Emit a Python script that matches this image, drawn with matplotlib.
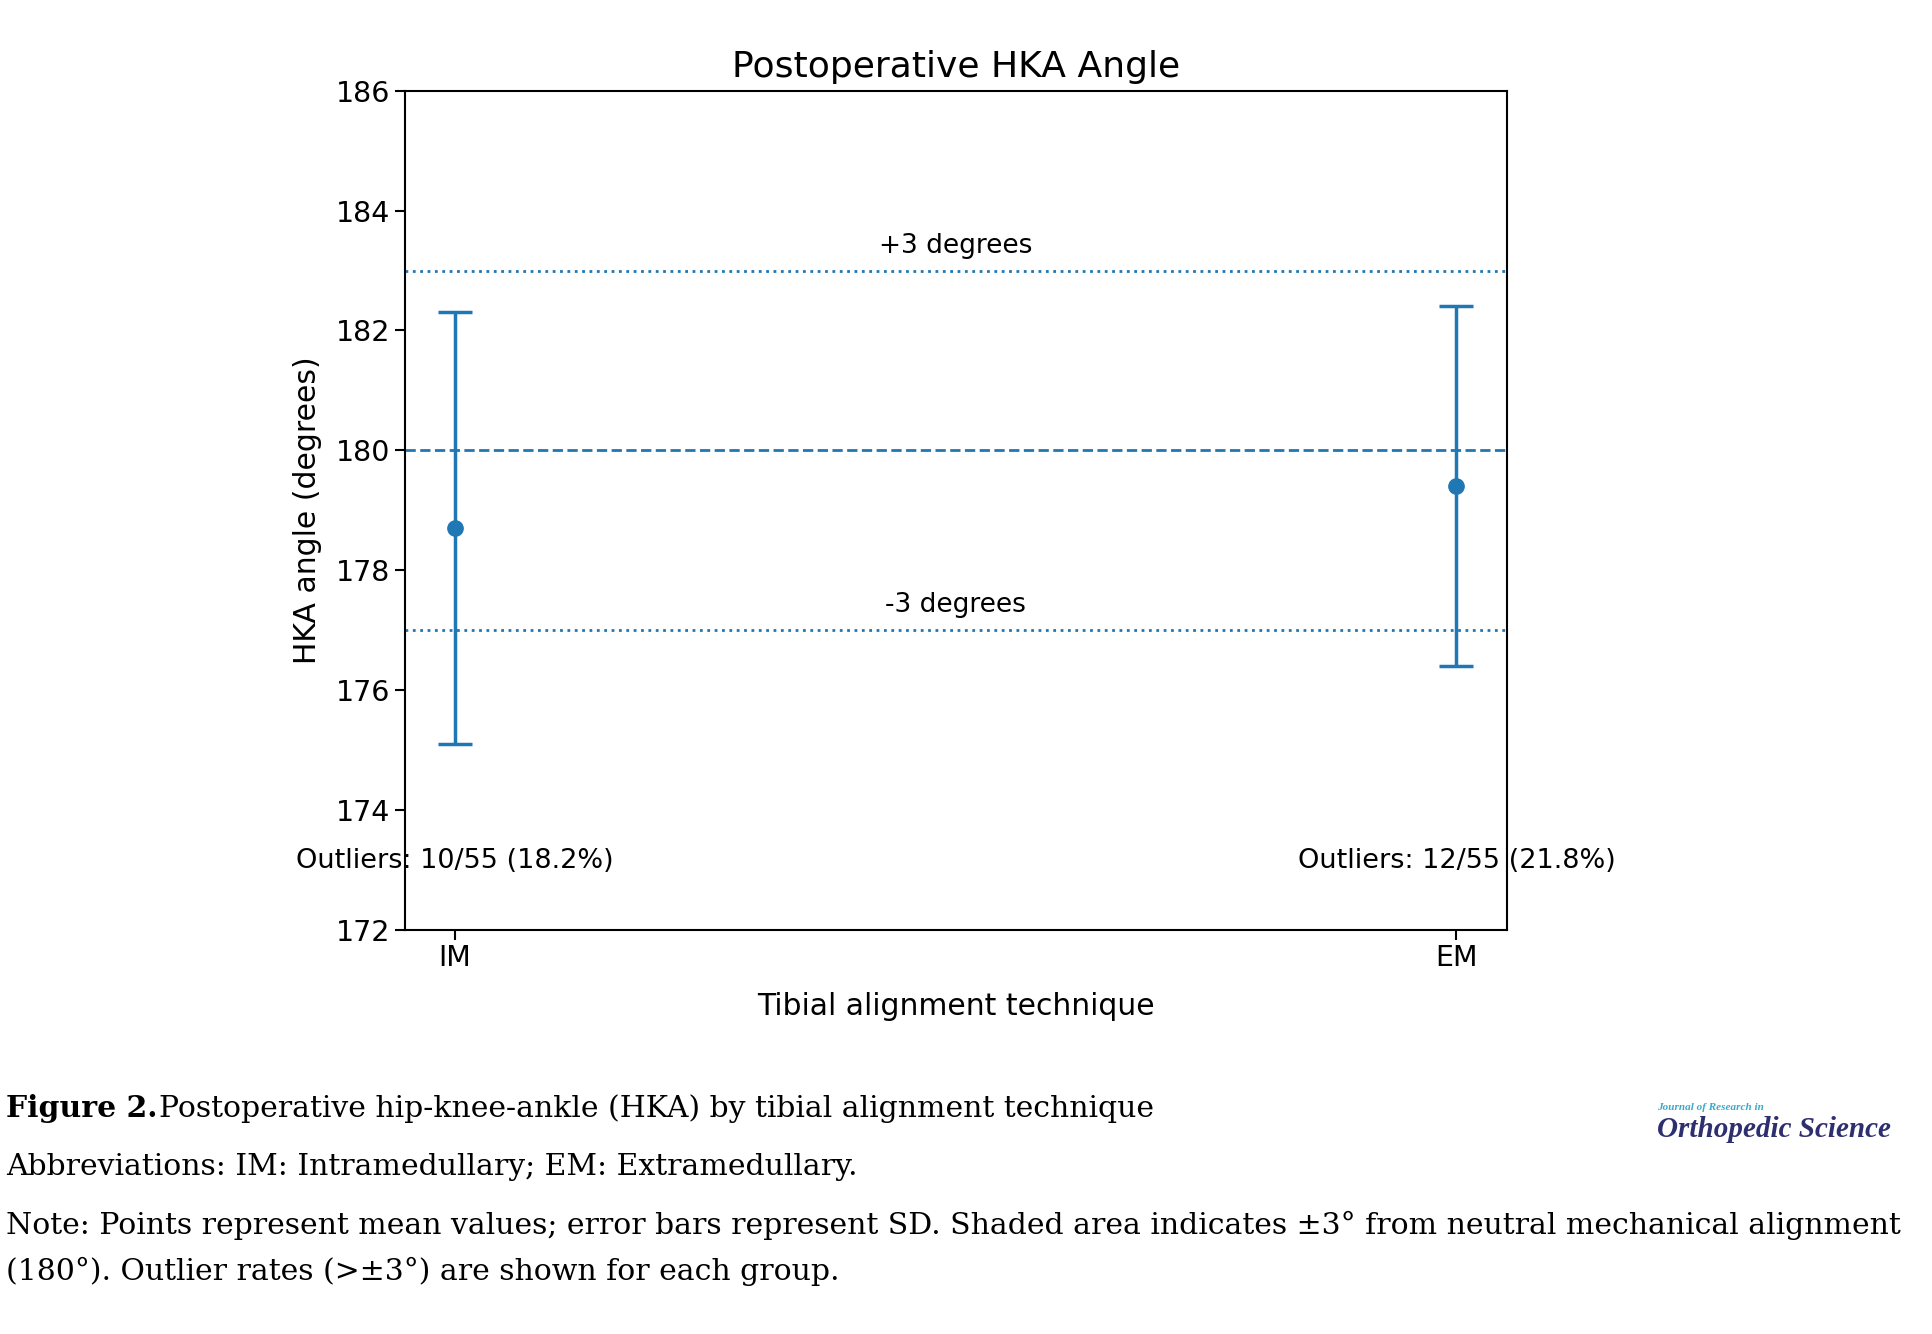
import matplotlib
matplotlib.use("Agg")
import matplotlib.pyplot as plt

groups = ["IM", "EM"]
means = [178.7, 179.4]
sds = [3.6, 3.0]
outlier_labels = ["Outliers: 10/55 (18.2%)", "Outliers: 12/55 (21.8%)"]
neutral = 180
tol = 3

fig = plt.figure(figsize=(19.33, 13.34), dpi=100)
ax = fig.add_axes([0.2094, 0.303, 0.570, 0.629])
x = list(range(len(groups)))
c = "#1f77b4"
ax.errorbar(x, means, yerr=sds, fmt="o", color=c, ecolor=c, capsize=12,
            markersize=11, elinewidth=2.5, capthick=2.5)
ax.axhline(neutral, color=c, ls="--", lw=2)
ax.axhline(neutral + tol, color=c, ls=":", lw=2)
ax.axhline(neutral - tol, color=c, ls=":", lw=2)
ax.text(0.5, neutral + tol + 0.2, "+3 degrees", ha="center", va="bottom", fontsize=19)
ax.text(0.5, neutral - tol + 0.2, "-3 degrees", ha="center", va="bottom", fontsize=19)
for xi, lab in zip(x, outlier_labels):
    ax.text(xi, 173.15, lab, ha="center", va="center", fontsize=19.5)
ax.set_xlim(-0.05, 1.05)
ax.set_ylim(172, 186)
ax.set_xticks(x)
ax.set_xticklabels(groups)
ax.set_yticks(range(172, 187, 2))
ax.tick_params(labelsize=20.5, length=7, width=1.5)
for s in ax.spines.values():
    s.set_linewidth(1.5)
ax.set_title("Postoperative HKA Angle", fontsize=26, pad=10)
ax.set_xlabel("Tibial alignment technique", fontsize=21.5, labelpad=14)
ax.set_ylabel("HKA angle (degrees)", fontsize=21.5, labelpad=10)

serif = "DejaVu Serif"
fs = 21.5
fig.text(0.003, 0.169, "Figure 2.", fontsize=fs, family=serif, weight="bold", va="center")
fig.text(0.082, 0.169, "Postoperative hip-knee-ankle (HKA) by tibial alignment technique",
         fontsize=fs, family=serif, va="center")
fig.text(0.003, 0.125, "Abbreviations: IM: Intramedullary; EM: Extramedullary.",
         fontsize=fs, family=serif, va="center")
fig.text(0.003, 0.0815, "Note: Points represent mean values; error bars represent SD. Shaded area indicates ±3° from neutral mechanical alignment",
         fontsize=fs, family=serif, va="center")
fig.text(0.003, 0.047, "(180°). Outlier rates (>±3°) are shown for each group.",
         fontsize=fs, family=serif, va="center")
fig.text(0.857, 0.17, "Journal of Research in", fontsize=8, family="Liberation Serif", style="italic",
         weight="bold", color="#3aa9c9", va="center")
fig.text(0.857, 0.153, "Orthopedic Science", fontsize=21, family="Liberation Serif", style="italic",
         weight="bold", color="#2e2f6e", va="center")

fig.savefig("out.png", dpi=100)
